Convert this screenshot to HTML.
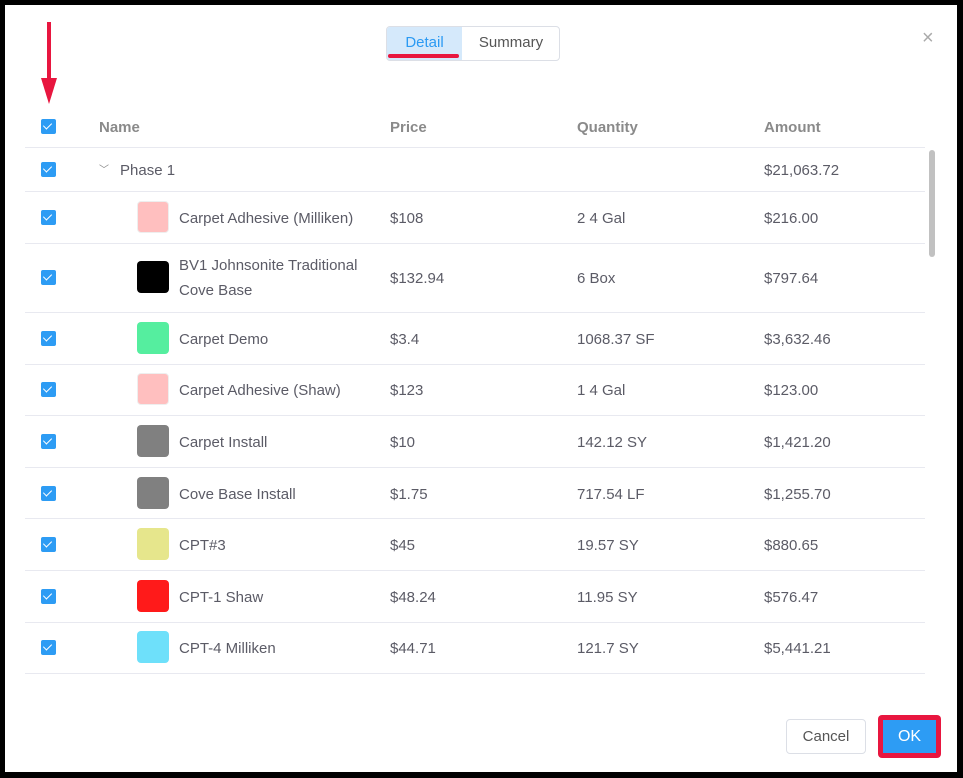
<!DOCTYPE html>
<html><head><meta charset="utf-8"><style>
*{box-sizing:border-box;margin:0;padding:0}
body{width:963px;height:778px;background:#000;font-family:"Liberation Sans",sans-serif;position:relative;overflow:hidden}
#dlg{position:absolute;left:5px;top:5px;width:952px;height:767px;background:#fff}
.a{position:absolute}
.cb{position:absolute;left:41px;width:15px;height:15px;background:#2d9cf4;border-radius:2px}
.cb:after{content:"";position:absolute;left:4px;top:2px;width:4px;height:7px;border:solid #fff;border-width:0 1.5px 1.5px 0;transform:rotate(45deg)}
.t{position:absolute;font-size:15px;color:#5b5b66;line-height:25px}
.h{position:absolute;font-size:15px;color:#8a8a8a;font-weight:bold}
.ln{position:absolute;left:25px;width:900px;height:1px;background:#e8e9f0}
.sw{position:absolute;left:137px;width:32px;height:32px;border-radius:4px}
</style></head><body>
<div id="dlg"></div>
<div class="a" style="left:386px;top:26px;width:174px;height:35px;border:1px solid #dcdfe6;border-radius:4px;overflow:hidden">
 <div class="a" style="left:0;top:0;width:75px;height:33px;background:#d5e9fb;color:#2b9af3;font-size:15px;text-align:center;line-height:32px">Detail</div>
 <div class="a" style="left:75px;top:0;width:98px;height:33px;color:#555;font-size:15px;text-align:center;line-height:32px">Summary</div>
</div>
<div class="a" style="left:388px;top:54px;width:71px;height:4px;background:#e8163f;border-radius:2px"></div>
<div class="a" style="left:922px;top:27px;font-size:20px;color:#aaa">×</div>
<div class="a" style="left:47px;top:22px;width:4px;height:62px;background:#e8163f"></div>
<div class="a" style="left:41px;top:78px;width:0;height:0;border-left:8px solid transparent;border-right:8px solid transparent;border-top:26px solid #e8163f"></div>

<div class="cb" style="top:119px"></div>
<div class="h" style="left:99px;top:119px">Name</div>
<div class="h" style="left:390px;top:119px">Price</div>
<div class="h" style="left:577px;top:119px">Quantity</div>
<div class="h" style="left:764px;top:119px">Amount</div>
<div class="ln" style="top:147px"></div>

<div class="cb" style="top:162px"></div>
<div class="t" style="left:99px;top:158px;color:#888;font-size:10px">﹀</div>
<div class="t" style="left:120px;top:158px">Phase 1</div>
<div class="t" style="left:764px;top:158px">$21,063.72</div>
<div class="ln" style="top:191px"></div>

<div id="rows"></div>
<div class="a" style="left:929px;top:150px;width:6px;height:107px;background:#c1c1c1;border-radius:3px"></div>

<div class="a" style="left:786px;top:719px;width:80px;height:35px;border:1px solid #dcdfe6;border-radius:4px;color:#555;font-size:15px;text-align:center;line-height:33px">Cancel</div>
<div class="a" style="left:878px;top:715px;width:63px;height:43px;background:#e8163f;border-radius:4px"></div>
<div class="a" style="left:883px;top:720px;width:53px;height:33px;background:#2d9cf4;color:#fff;font-size:16px;text-align:center;line-height:33px">OK</div>
<script>
const names=["Carpet Adhesive (Milliken)","BV1 Johnsonite Traditional<br>Cove Base","Carpet Demo","Carpet Adhesive (Shaw)","Carpet Install","Cove Base Install","CPT#3","CPT-1 Shaw","CPT-4 Milliken"];
const colors=["#ffbfbf","#000000","#55ee9f","#ffbfbf","#808080","#808080","#e6e68c","#ff1a1a","#6ee0fa"];
const prices=["$108","$132.94","$3.4","$123","$10","$1.75","$45","$48.24","$44.71"];
const qtys=["2 4 Gal","6 Box","1068.37 SF","1 4 Gal","142.12 SY","717.54 LF","19.57 SY","11.95 SY","121.7 SY"];
const amts=["$216.00","$797.64","$3,632.46","$123.00","$1,421.20","$1,255.70","$880.65","$576.47","$5,441.21"];
const centers=[217,277,338,389,441,493,544,596,647];
const bottoms=[243,312,364,415,467,518,570,622,673];
const R=document.getElementById('rows');
function mk(cls,style,html){const d=document.createElement('div');d.className=cls;d.setAttribute('style',style);if(html)d.innerHTML=html;R.appendChild(d);return d;}
names.forEach((n,i)=>{const c=centers[i];
 let e=mk('cb','top:'+(c-7)+'px');
 
 
 e=mk('sw','top:'+(c-16)+'px;background:'+colors[i]+';'+(colors[i]=='#ffbfbf'?'border:1px solid #eee':''));
 
 
 e=mk('t','left:179px;top:'+(c-(n.includes('<br>')?24:11))+'px',n);
 
 
 e=mk('t','left:390px;top:'+(c-11)+'px',prices[i]);
 
 
 e=mk('t','left:577px;top:'+(c-11)+'px',qtys[i]);
 
 
 e=mk('t','left:764px;top:'+(c-11)+'px',amts[i]);
 
 
 e=mk('ln','top:'+bottoms[i]+'px');
 
 
});
</script>
</body></html>
